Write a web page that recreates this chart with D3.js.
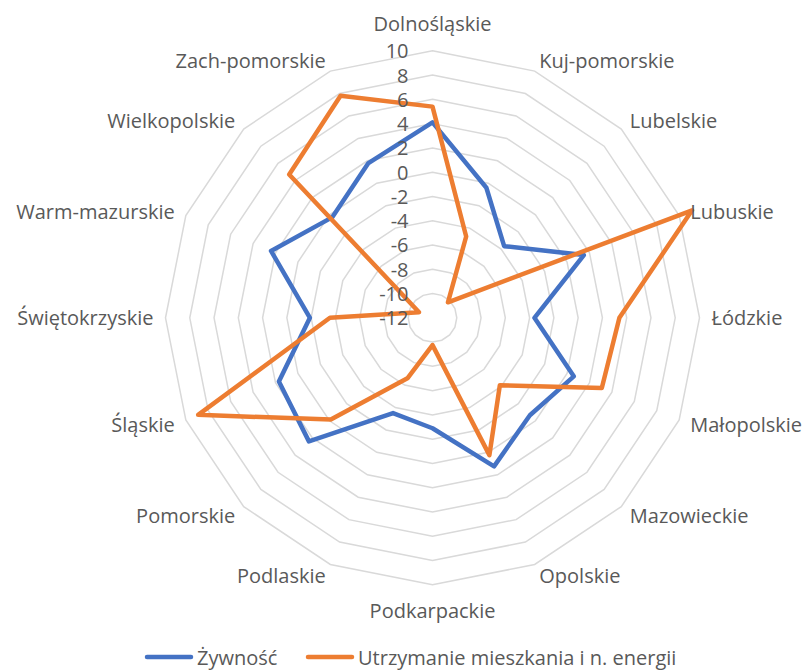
<!DOCTYPE html>
<html><head><meta charset="utf-8">
<script src="https://cdn.jsdelivr.net/npm/d3@7"></script>
<style>body{margin:0;background:#fff}svg{display:block}</style>
</head><body>
<script>
const categories = ["Dolnośląskie","Kuj-pomorskie","Lubelskie","Lubuskie","Łódzkie","Małopolskie","Mazowieckie","Opolskie","Podkarpackie","Podlaskie","Pomorskie","Śląskie","Świętokrzyskie","Warm-mazurskie","Wielkopolskie","Zach-pomorskie"];
const zywnosc = [4.1,-0.4,-3.65,1.5,-3.6,0.6,-0.65,1.25,-2.9,-3.5,2.4,1.7,-1.9,2.4,-0.3,1.8];
const utrzymanie = [5.4,-4.75,-10.2,11.15,3.4,3.1,-4.15,0.25,-9.75,-6.6,-0.15,8.9,-3.55,-10.8,4.7,7.8];
const seriesNames = ["Żywność","Utrzymanie mieszkania i n. energii"];
const tickValues = [-12,-10,-8,-6,-4,-2,0,2,4,6,8,10];
const colors = ["#4472C4","#ED7D31"];

const W = 810, H = 671, cx = 432.5, cy = 317.8, R = 267;
const svg = d3.select("body").append("svg").attr("width", W).attr("height", H);
const r = d3.scaleLinear().domain([-12, 10]).range([0, R]);
const ang = d3.scalePoint().domain(categories).range([0, 2*Math.PI*(15/16)]);
const pt = (c, v) => { const a = ang(c); return [cx + r(v)*Math.sin(a), cy - r(v)*Math.cos(a)]; };

const font = "'Open Sans', sans-serif";
// grid rings
const g = svg.append("g");
tickValues.filter(t => t > -12).forEach(t => {
  g.append("path")
    .attr("d", d3.line()(categories.map(c => pt(c, t))) + "Z")
    .attr("fill", "none").attr("stroke", "#d9d9d9").attr("stroke-width", 1.5);
});

// series
[zywnosc, utrzymanie].forEach((vals, i) => {
  svg.append("path")
    .attr("d", d3.line()(categories.map((c, j) => pt(c, vals[j]))) + "Z")
    .attr("fill", "none").attr("stroke", colors[i]).attr("stroke-width", 4.5)
    .attr("stroke-linejoin", "round");
});

// tick labels
tickValues.forEach(t => {
  svg.append("text").attr("x", cx - 24).attr("y", cy - r(t))
    .attr("text-anchor", "end").attr("dominant-baseline", "central")
    .attr("font-family", font).attr("font-size", 20).attr("fill", "#595959")
    .text(t);
});

// category labels
categories.forEach(c => {
  const a = ang(c), s = Math.sin(a), co = Math.cos(a);
  const rr = R + 12;
  let x = cx + rr*s, y = cy - rr*co;
  let anchor = Math.abs(s) < 0.01 ? "middle" : (s > 0 ? "start" : "end");
  if (Math.abs(s) < 0.01) y += co > 0 ? -15 : 14;
  svg.append("text").attr("x", x).attr("y", y)
    .attr("text-anchor", anchor).attr("dominant-baseline", "central")
    .attr("font-family", font).attr("font-size", 20).attr("fill", "#595959")
    .text(c);
});

// legend
const leg = [{x: 147, tx: 197}, {x: 308, tx: 358}];
const ly = 657;
seriesNames.forEach((n, i) => {
  svg.append("line").attr("x1", leg[i].x).attr("x2", leg[i].x + 44).attr("y1", ly).attr("y2", ly)
    .attr("stroke", colors[i]).attr("stroke-width", 4.5).attr("stroke-linecap", "round");
  svg.append("text").attr("x", leg[i].tx).attr("y", ly).attr("dominant-baseline", "central")
    .attr("font-family", font).attr("font-size", 20).attr("fill", "#595959").text(n);
});
</script>
</body></html>
